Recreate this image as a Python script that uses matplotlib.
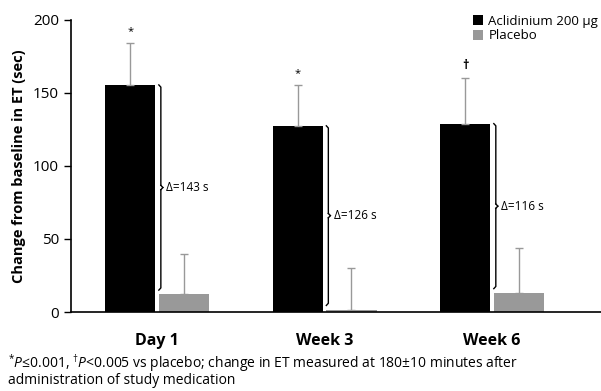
import numpy as np
import matplotlib.pyplot as plt

plt.rcParams['font.family'] = ['Open Sans', 'DejaVu Sans']
plt.rcParams['mathtext.fontset'] = 'custom'
plt.rcParams['mathtext.rm'] = 'Open Sans'
plt.rcParams['mathtext.it'] = 'Open Sans:italic'

# data
timepoints = ["Day 1", "Week 3", "Week 6"]
aclidinium = [155.5, 127.5, 129.0]
aclidinium_err = [29.0, 28.0, 31.5]
placebo = [12.0, 1.5, 13.0]
placebo_err = [28.0, 28.5, 30.5]
deltas = ["Δ=143 s", "Δ=126 s", "Δ=116 s"]
signif = ["*", "*", "†"]

black = "#000000"
grey = "#999999"

fig = plt.figure(figsize=(6.01, 3.91), dpi=100)
ax = fig.add_axes([0.118, 0.202, 0.882, 0.747])

x = np.arange(len(timepoints))
w = 0.3
gap = 0.02
xa = x - (w + gap) / 2
xp = x + (w + gap) / 2

ax.bar(xa, aclidinium, w, color=black, label="Aclidinium 200 µg")
ax.bar(xp, placebo, w, color=grey, label="Placebo")

# one-sided error bars, drawn in grey
ax.errorbar(xa, aclidinium, yerr=[np.zeros(3), aclidinium_err], fmt="none",
            ecolor=grey, elinewidth=1, capsize=3, capthick=1)
ax.errorbar(xp, placebo, yerr=[np.zeros(3), placebo_err], fmt="none",
            ecolor=grey, elinewidth=1, capsize=3, capthick=1)

for i in range(3):
    top = aclidinium[i] + aclidinium_err[i]
    if signif[i] == "*":
        ax.text(xa[i], top + 4, signif[i], ha="center", va="bottom",
                fontsize=8)
    else:
        ax.text(xa[i], top + 4, signif[i], ha="center", va="bottom",
                fontsize=9, fontweight="bold")

    # curly brace between the aclidinium and placebo bar tops
    bx = xa[i] + w / 2 + 0.02
    y1 = aclidinium[i]
    y0 = placebo[i] + 3
    mid = (y0 + y1) / 2
    c = 0.012
    ax.plot([bx, bx + c, bx + c], [y1, y1 - 1.5, mid + 1.5], color=black, lw=1)
    ax.plot([bx + c, bx + 2 * c], [mid + 1.5, mid], color=black, lw=1)
    ax.plot([bx + 2 * c, bx + c], [mid, mid - 1.5], color=black, lw=1)
    ax.plot([bx + c, bx + c, bx], [mid - 1.5, y0 + 1.5, y0], color=black, lw=1)
    ax.text(bx + 2 * c + 0.02, mid, deltas[i], ha="left", va="center",
            fontsize=8.5)

ax.set_xlim(-0.515, 2.65)
ax.set_ylim(0, 200)
ax.set_yticks([0, 50, 100, 150, 200])
ax.set_xticks(x)
ax.set_xticklabels(timepoints, fontsize=11.5, fontweight="bold")
ax.tick_params(axis="x", length=0, pad=15)
ax.tick_params(axis="y", labelsize=11, length=5, width=1)
ax.set_ylabel("Change from baseline in ET (sec)", fontsize=10.5,
              fontweight="bold", labelpad=5)
for s in ["top", "right"]:
    ax.spines[s].set_visible(False)
for s in ["left", "bottom"]:
    ax.spines[s].set_linewidth(1.2)

ax.legend(loc="upper right", bbox_to_anchor=(1.005, 1.035), frameon=False,
          fontsize=9.5, handlelength=0.8, handleheight=0.8,
          handletextpad=0.4, labelspacing=0.1, borderaxespad=0)

fig.text(0.013, 0.072,
         r"$^{*}\mathit{P}$≤0.001, $^{†}\mathit{P}$<0.005 vs placebo; "
         "change in ET measured at 180±10 minutes after",
         fontsize=10, ha="left", va="center")
fig.text(0.013, 0.026, "administration of study medication",
         fontsize=10, ha="left", va="center")

fig.savefig("out.png", dpi=100)
